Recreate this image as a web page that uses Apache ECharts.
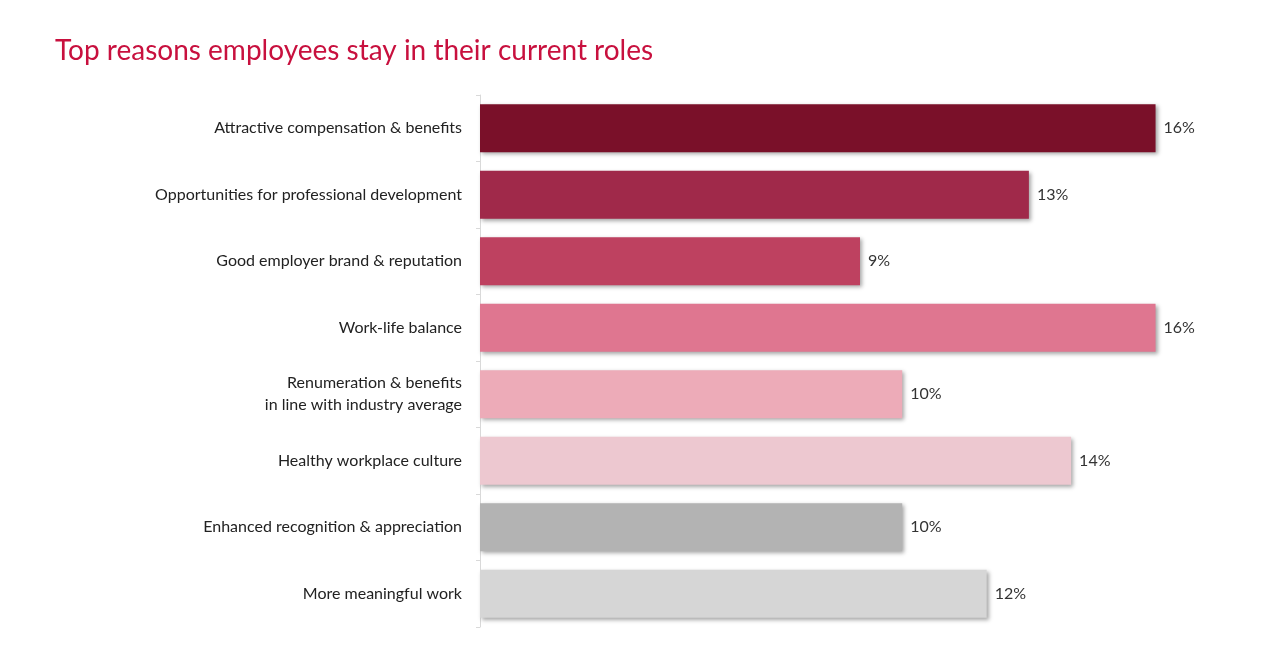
<!DOCTYPE html>
<html><head><meta charset="utf-8">
<script src="https://cdn.jsdelivr.net/npm/echarts@6/dist/echarts.min.js"></script>
<style>html,body{margin:0;padding:0;background:#fff}#c{width:1280px;height:650px}</style>
</head><body><div id="c"></div>
<script>
var categories = ['Attractive compensation & benefits','Opportunities for professional development','Good employer brand & reputation','Work-life balance','Renumeration & benefits\nin line with industry average','Healthy workplace culture','Enhanced recognition & appreciation','More meaningful work'];
var values = [16, 13, 9, 16, 10, 14, 10, 12];
var colors = ['#7a1029','#a0294a','#be4160','#df7690','#edabb8','#edc8d0','#b3b3b3','#d6d6d6'];

var chart = echarts.init(document.getElementById('c'));
chart.setOption({
    title: {
        text: 'Top reasons employees stay in their current roles',
        left: 50, top: 32,
        textStyle: { fontSize: 28, fontWeight: 'normal', color: '#c8103e', fontFamily: 'Lato' }
    },
    grid: { left: 480, right: 40, top: 95, bottom: 23 },
    xAxis: { type: 'value', min: 0, max: 18, show: false },
    yAxis: {
        type: 'category', inverse: true, data: categories,
        axisLine: { lineStyle: { color: '#d9d9d9' } },
        axisTick: { show: true, length: 4, lineStyle: { color: '#d9d9d9' } },
        axisLabel: { color: '#222', fontSize: 16, fontFamily: 'Lato', margin: 18, lineHeight: 22, align: 'right' }
    },
    series: [{
        type: 'bar',
        barCategoryGap: '28%',
        data: values.map(function (v, i) {
            return { value: v, itemStyle: { color: colors[i] } };
        }),
        itemStyle: { shadowColor: 'rgba(0,0,0,0.35)', shadowBlur: 4, shadowOffsetX: 2, shadowOffsetY: 2 },
        label: { show: true, position: 'right', formatter: '{c}%', color: '#333', fontSize: 16, fontFamily: 'Lato', distance: 8 }
    }]
});
</script></body></html>
